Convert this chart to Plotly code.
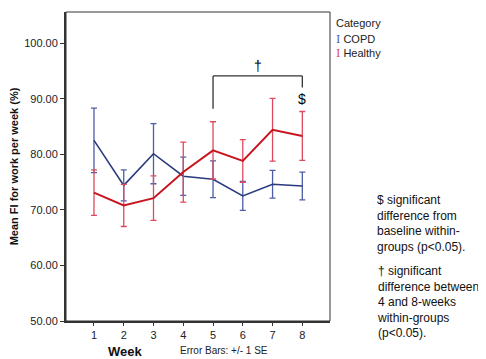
import plotly.graph_objects as go

weeks = [1, 2, 3, 4, 5, 6, 7, 8]
copd_mean = [82.5, 74.4, 80.1, 76.05, 75.5, 72.5, 74.6, 74.3]
copd_se = [5.8, 2.8, 5.4, 3.45, 3.3, 2.6, 2.5, 2.5]
healthy_mean = [73.1, 70.8, 72.1, 76.8, 80.7, 78.8, 84.4, 83.3]
healthy_se = [4.1, 3.8, 4.0, 5.4, 5.15, 3.85, 5.65, 4.4]
y_ticks = [50, 60, 70, 80, 90, 100]
y_tick_labels = ["50.00", "60.00", "70.00", "80.00", "90.00", "100.00"]

FONT = "Liberation Sans, Arial, sans-serif"
RED_LINE = "#c8141e"
RED_ERR = "#e04a5e"
BLUE_LINE = "#2a3a7e"
BLUE_ERR = "#4d5ea6"

fig = go.Figure()
fig.add_trace(go.Scatter(
    x=weeks, y=copd_mean, mode="lines", name="COPD",
    line=dict(color=BLUE_LINE, width=1.6),
    error_y=dict(type="data", array=copd_se, visible=True,
                 color=BLUE_ERR, thickness=1.3, width=3),
))
fig.add_trace(go.Scatter(
    x=weeks, y=healthy_mean, mode="lines", name="Healthy",
    line=dict(color=RED_LINE, width=2),
    error_y=dict(type="data", array=healthy_se, visible=True,
                 color=RED_ERR, thickness=1.3, width=3),
))

# significance bracket (weeks 5 to 8)
fig.add_shape(type="line", x0=5, x1=5, y0=88.2, y1=94.1, line=dict(color="#333333", width=1.3))
fig.add_shape(type="line", x0=5, x1=8, y0=94.1, y1=94.1, line=dict(color="#333333", width=1.3))
fig.add_shape(type="line", x0=8, x1=8, y0=92.0, y1=94.1, line=dict(color="#333333", width=1.3))
fig.add_annotation(x=6.5, y=95.9, text="†", showarrow=False,
                   font=dict(family=FONT, size=14, color="#000000"))
fig.add_annotation(x=8, y=90.0, text="$", showarrow=False,
                   font=dict(family=FONT, size=14, color="#000000"))

# plot frame
fig.add_shape(type="rect", xref="paper", yref="paper", x0=0, x1=1, y0=0, y1=1,
              line=dict(color="#333333", width=1))

# legend as text
fig.add_annotation(xref="paper", yref="paper", x=1.015, y=0.965, xanchor="left", yanchor="middle",
                   text="Category", showarrow=False, font=dict(family=FONT, size=11, color="#222222"))
fig.add_annotation(xref="paper", yref="paper", x=1.015, y=0.91, xanchor="left", yanchor="middle",
                   text=f"<span style='color:{BLUE_ERR};font-family:DejaVu Serif'>I</span> COPD", showarrow=False,
                   font=dict(family=FONT, size=11, color="#222222"))
fig.add_annotation(xref="paper", yref="paper", x=1.015, y=0.867, xanchor="left", yanchor="middle",
                   text=f"<span style='color:{RED_ERR};font-family:DejaVu Serif'>I</span> Healthy", showarrow=False,
                   font=dict(family=FONT, size=11, color="#222222"))

# notes on right
fig.add_annotation(xref="paper", yref="paper", x=1.17, y=0.42, xanchor="left", yanchor="top",
                   align="left", showarrow=False,
                   text="$ significant<br>difference from<br>baseline within-<br>groups (p<0.05).",
                   font=dict(family=FONT, size=12, color="#111111"))
fig.add_annotation(xref="paper", yref="paper", x=1.17, y=0.19, xanchor="left", yanchor="top",
                   align="left", showarrow=False,
                   text="† significant<br>difference between<br>4 and 8-weeks<br>within-groups<br>(p<0.05).",
                   font=dict(family=FONT, size=12, color="#111111"))

fig.add_annotation(xref="paper", yref="paper", x=0.223, y=-0.1, xanchor="center", yanchor="middle",
                   text="<b>Week</b>", showarrow=False, font=dict(family=FONT, size=13, color="#111111"))
fig.add_annotation(xref="paper", yref="paper", x=0.60, y=-0.095, xanchor="center", yanchor="middle",
                   text="Error Bars: +/- 1 SE", showarrow=False, font=dict(family=FONT, size=10, color="#222222"))

# The page body has an 8px default margin, so the figure is sized/offset to compensate.
fig.update_layout(
    width=478, height=351,
    margin=dict(l=58, r=156, t=4, b=38),
    paper_bgcolor="white", plot_bgcolor="white",
    showlegend=False,
    font=dict(family=FONT, size=11, color="#222222"),
    xaxis=dict(range=[0.06, 8.93], tickvals=weeks, ticktext=[str(w) for w in weeks],
               automargin=False,
               showgrid=False, zeroline=False, showline=True, linecolor="#333333", linewidth=2,
               ticks="outside", ticklen=3, tickcolor="#333333", tickfont=dict(size=11)),
    yaxis=dict(range=[50, 105.6], tickvals=y_ticks, ticktext=y_tick_labels,
               automargin=False,
               showgrid=False, zeroline=False, showline=True, linecolor="#333333", linewidth=2,
               ticks="outside", ticklen=4, tickcolor="#333333", tickfont=dict(size=11),
               title=dict(text="<b>Mean FI for work per week (%)</b>", font=dict(size=11, color="#111111"),
                          standoff=10)),
)

fig.write_html("out.html")
